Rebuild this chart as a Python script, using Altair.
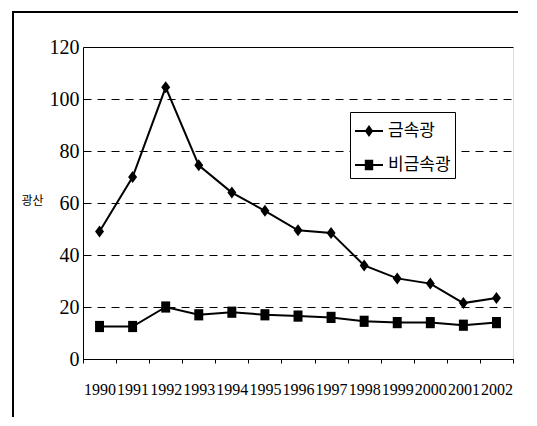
import altair as alt
import pandas as pd

years = ["1990", "1991", "1992", "1993", "1994", "1995", "1996",
         "1997", "1998", "1999", "2000", "2001", "2002"]
metal = [49, 70, 104.5, 74.5, 64, 57, 49.5, 48.5, 36, 31, 29, 21.5, 23.5]
nonmetal = [12.5, 12.5, 20, 17, 18, 17, 16.5, 16, 14.5, 14, 14, 13, 14]
series_names = ["금속광", "비금속광"]
y_ticks = [0, 20, 40, 60, 80, 100, 120]

rows = []
for i, yr in enumerate(years):
    rows.append({"year": yr, "series": series_names[0], "value": metal[i]})
    rows.append({"year": yr, "series": series_names[1], "value": nonmetal[i]})
df = pd.DataFrame(rows)

diamond_only = "M0,-0.43L0.32,0L0,0.43L-0.32,0Z"
square_only = "M-0.32,-0.4L0.32,-0.4L0.32,0.4L-0.32,0.4Z"
diamond_leg = "M-1,-0.07L1,-0.07L1,0.07L-1,0.07ZM0,-0.42L0.3,0L0,0.42L-0.3,0Z"
square_leg = "M-1,-0.07L1,-0.07L1,0.07L-1,0.07ZM-0.3,-0.38L0.3,-0.38L0.3,0.38L-0.3,0.38Z"

W, H = 430, 312

x_enc = alt.X("year:O", sort=years,
              scale=alt.Scale(type="band", paddingInner=0, paddingOuter=0),
              axis=alt.Axis(title=None, labelAngle=0, tickBand="extent",
                            tickSize=4, tickColor="black", domainColor="black",
                            labelFont="Liberation Sans Narrow", labelFontSize=16,
                            labelColor="black", labelPadding=18, grid=False))
y_enc = alt.Y("value:Q",
              scale=alt.Scale(domain=[0, 120], nice=False),
              axis=alt.Axis(values=y_ticks, title="광산", titleAngle=0,
                            titleX=-62, titleY=153, titleAlign="left",
                            titleBaseline="middle", titleFontSize=12,
                            titleFont="Noto Sans CJK KR", titleFontWeight="normal",
                            titleColor="black",
                            labelFont="Liberation Sans Narrow", labelFontSize=20,
                            labelColor="black", labelPadding=4, tickSize=0,
                            domainColor="black", grid=True, gridColor="black",
                            gridWidth=1,
                            gridDash={"condition": {"test": "datum.value === 120 || datum.value === 0", "value": []},
                                      "value": [8, 6]}))

base = alt.Chart(df)

lines = base.mark_line(color="black", strokeWidth=2).encode(
    x=x_enc, y=y_enc, detail="series:N")

points = base.mark_point(filled=True, color="black", size=784,
                         opacity=1).encode(
    x=x_enc, y=y_enc,
    shape=alt.Shape("series:N",
                    scale=alt.Scale(domain=series_names,
                                    range=[diamond_only, square_only]),
                    legend=None))

legend_layer = base.transform_filter("false").mark_point(
    filled=True, color="black", size=784, opacity=1).encode(
    x=x_enc, y=y_enc,
    shape=alt.Shape("series:N",
                    scale=alt.Scale(domain=series_names,
                                    range=[diamond_leg, square_leg]),
                    legend=alt.Legend(title=None, orient="none",
                                      legendX=267, legendY=65,
                                      strokeColor="black", fillColor="white",
                                      padding=4, rowPadding=10,
                                      symbolSize=784,
                                      labelFont="Noto Sans CJK KR",
                                      labelFontSize=17, labelColor="black",
                                      labelOffset=4)))

frame = alt.Chart().mark_rect(color="black").encode(
    x=alt.value(-71), x2=alt.value(W + 30),
    y=alt.value(-36), y2=alt.value(-34))
frame_left = alt.Chart().mark_rect(color="black").encode(
    x=alt.value(-71), x2=alt.value(-69),
    y=alt.value(-36), y2=alt.value(H + 90))

chart = alt.layer(lines, points, legend_layer, frame, frame_left).resolve_scale(
    shape="independent"
).properties(
    width=W, height=H,
    autosize=alt.AutoSizeParams(type="none"),
    padding={"left": 75, "top": 39, "right": 5, "bottom": 58},
).configure_view(stroke=None).configure(background="white")

chart.save("out.html", embed_options={"renderer": "svg", "actions": False})
